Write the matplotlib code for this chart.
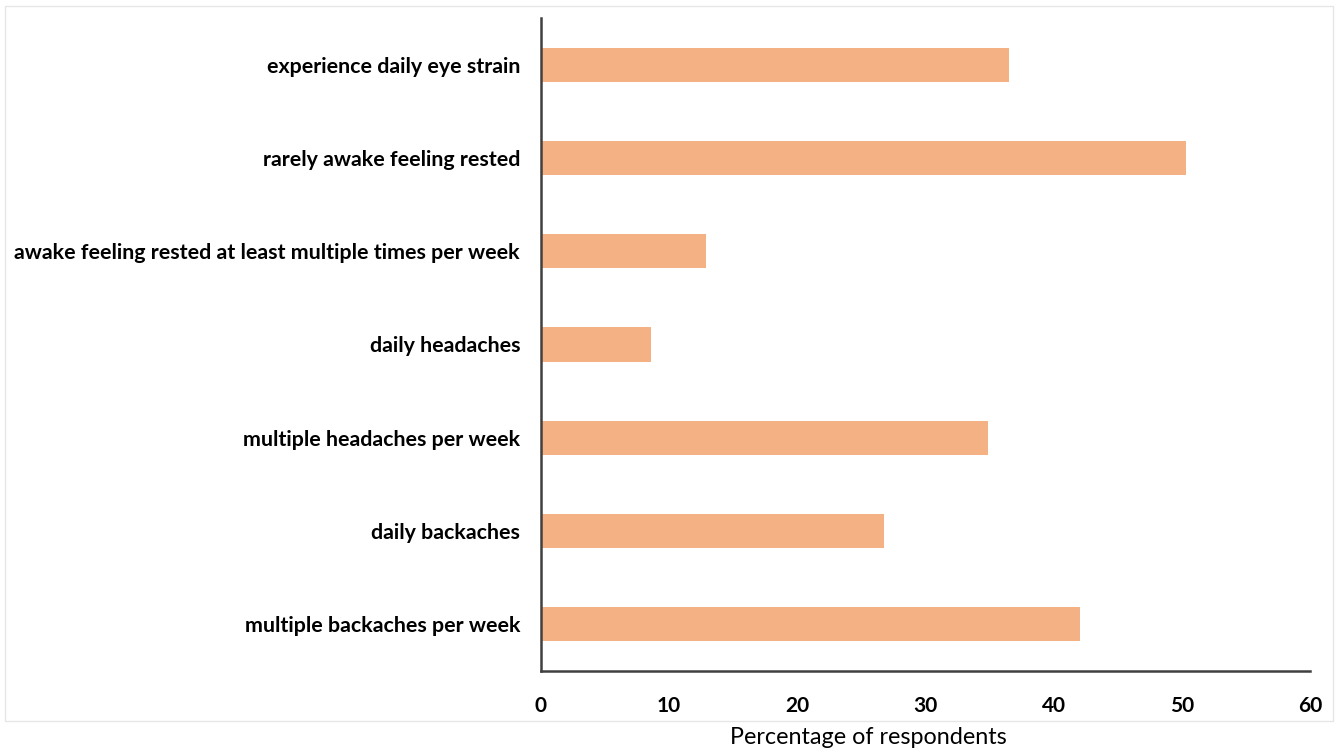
import matplotlib.pyplot as plt
from matplotlib.patches import Rectangle

plt.rcParams['font.family'] = ['Lato', 'DejaVu Sans']

categories = [
    "multiple backaches per week",
    "daily backaches",
    "multiple headaches per week",
    "daily headaches",
    "awake feeling rested at least multiple times per week",
    "rarely awake feeling rested",
    "experience daily eye strain",
]
percentages = [42.1, 26.8, 34.9, 8.6, 12.9, 50.3, 36.5]
x_ticks = [0, 10, 20, 30, 40, 50, 60]

fig = plt.figure(figsize=(13.38, 7.53), dpi=100)
ax = fig.add_axes([0.4043, 0.1089, 0.5747, 0.8672])

ypos = list(range(len(categories)))
ax.barh(ypos, percentages, height=0.365, color="#F4B183")

ax.set_xlim(0, 60)
ax.set_ylim(-0.5, len(categories) - 0.5)
ax.set_xticks(x_ticks)
ax.set_xticklabels([str(t) for t in x_ticks], fontsize=15, fontweight="bold")
ax.set_yticks(ypos)
ax.set_yticklabels(categories, fontsize=15.4, fontweight="bold")
ax.tick_params(axis="both", length=0)
ax.tick_params(axis="x", pad=18)
ax.tick_params(axis="y", pad=15)

for side in ["top", "right"]:
    ax.spines[side].set_visible(False)
for side in ["left", "bottom"]:
    ax.spines[side].set_color("#404040")
    ax.spines[side].set_linewidth(1.8)

# thin frame around the chart area
frame = Rectangle((5 / 1338, 1 - 721 / 753), 1328 / 1338, 715 / 753,
                  transform=fig.transFigure, fill=False,
                  edgecolor="#e6e6e6", linewidth=1.0)
fig.patches.append(frame)

fig.text(868 / 1338, 1 - 738 / 753, "Percentage of respondents",
         fontsize=16.8, ha="center", va="center")

plt.savefig("out.png", dpi=100)
